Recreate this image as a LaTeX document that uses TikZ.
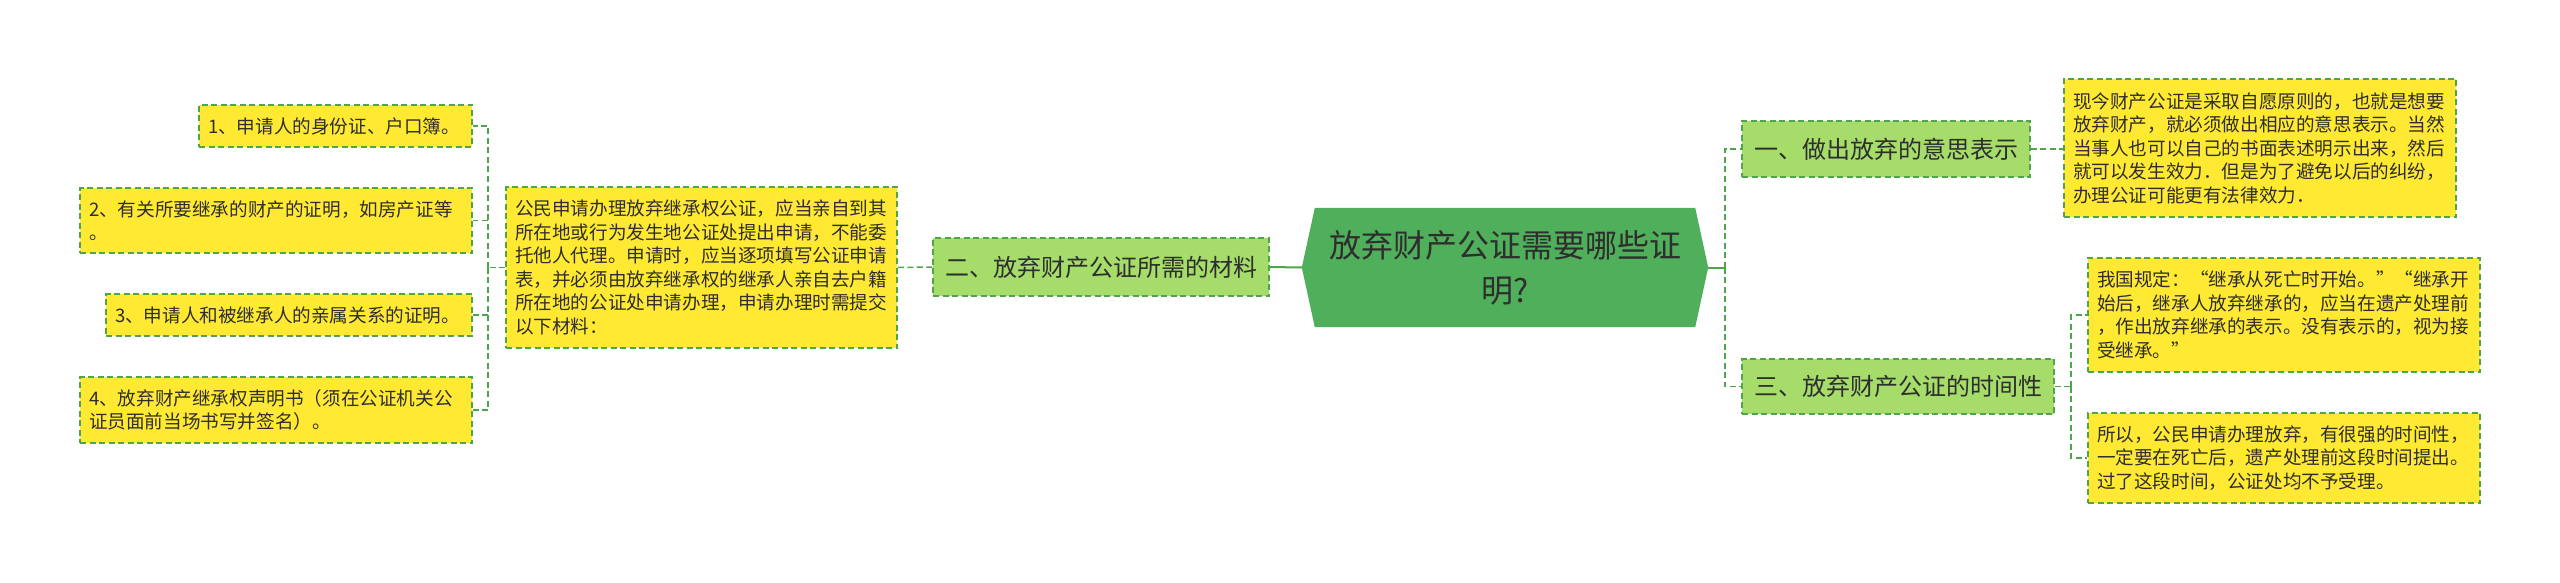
\documentclass[tikz,border=0pt]{standalone}
\usepackage{fontspec}
\setmainfont{Noto Sans CJK SC}
\usetikzlibrary{backgrounds,calc}
\definecolor{yel}{HTML}{FFE933}
\definecolor{lgreen}{HTML}{A5DC6A}
\definecolor{hubgreen}{HTML}{50AF5A}
\definecolor{edge}{HTML}{4FA54A}
\definecolor{ink}{HTML}{2E2E2E}
\begin{document}
\begin{tikzpicture}[x=1pt,y=-1pt,
  ybox/.style={fill=yel, draw=edge, line width=1.4pt, dash pattern=on 6pt off 3.5pt,
    inner xsep=9pt, inner ysep=0pt, align=left, text=ink,
    font=\fontsize{18.6}{23.5}\selectfont},
  gbox/.style={fill=lgreen, draw=edge, line width=1.4pt, dash pattern=on 6pt off 3.5pt,
    inner sep=0pt, text=ink, font=\fontsize{24}{28}\selectfont},
  hub/.style={inner sep=0pt, align=center, text=ink, font=\fontsize{32}{45}\selectfont},
  conn/.style={draw=edge, line width=1.5pt, dash pattern=on 6pt off 3.5pt},
  solidconn/.style={draw=edge, line width=2pt}]
\useasboundingbox (0,0) rectangle (2560,583);

% centre
\node[hub, minimum width=380pt, minimum height=119pt] (c) at (1505,267.5)
  {放弃财产公证需要哪些证\\明?};
\begin{scope}[on background layer]
\fill[white] (0,0) rectangle (2560,583);
\fill[hubgreen] (c.north west) -- (c.north east) -- ([xshift=13pt]c.east)
  -- (c.south east) -- (c.south west) -- ([xshift=-13pt]c.west) -- cycle;
\end{scope}

% left branch
\node[gbox, minimum width=336pt, minimum height=58pt] (two) at (1101,267) {二、放弃财产公证所需的材料};
\node[ybox, text width=373pt, minimum height=161pt] (big) at (701.5,267.5)
  {公民申请办理放弃继承权公证，应当亲自到其\\所在地或行为发生地公证处提出申请，不能委\\托他人代理。申请时，应当逐项填写公证申请\\表，并必须由放弃继承权的继承人亲自去户籍\\所在地的公证处申请办理，申请办理时需提交\\以下材料：};
\node[ybox, text width=255pt, minimum height=42pt] (b1) at (335.5,126) {1、申请人的身份证、户口簿。};
\node[ybox, text width=374pt, minimum height=65pt] (b2) at (276,220.5) {2、有关所要继承的财产的证明，如房产证等\\。};
\node[ybox, text width=348pt, minimum height=42pt] (b3) at (289,315) {3、申请人和被继承人的亲属关系的证明。};
\node[ybox, text width=374pt, minimum height=66pt] (b4) at (276,410) {4、放弃财产继承权声明书（须在公证机关公\\证员面前当场书写并签名）。};

% right branch
\node[gbox, minimum width=288pt, minimum height=56pt] (one) at (1886,149) {一、做出放弃的意思表示};
\node[gbox, minimum width=312pt, minimum height=55pt] (three) at (1898,386.5) {三、放弃财产公证的时间性};
\node[ybox, text width=374pt, minimum height=138pt] (r1) at (2260,148)
  {现今财产公证是采取自愿原则的，也就是想要\\放弃财产，就必须做出相应的意思表示。当然\\当事人也可以自己的书面表述明示出来，然后\\就可以发生效力．但是为了避免以后的纠纷，\\办理公证可能更有法律效力．};
\node[ybox, text width=374pt, minimum height=114pt] (r2) at (2284,315)
  {我国规定：“继承从死亡时开始。”“继承开\\始后，继承人放弃继承的，应当在遗产处理前\\，作出放弃继承的表示。没有表示的，视为接\\受继承。”};
\node[ybox, text width=374pt, minimum height=90pt] (r3) at (2284,458)
  {所以，公民申请办理放弃，有很强的时间性，\\一定要在死亡后，遗产处理前这段时间提出。\\过了这段时间，公证处均不予受理。};

% junctions
\coordinate (lj) at (488,267.5);
\coordinate (rj) at (1725,267.5);
\coordinate (tj) at (2071,386.5);

% connectors
\draw[solidconn] ([xshift=-13pt]c.west) -- (two.east);
\draw[conn] (two.west) -- (big.east);
\draw[conn] (big.west) -- (lj);
\draw[conn] (lj) |- (b1.east);
\draw[conn] (lj) |- (b2.east);
\draw[conn] (lj) |- (b3.east);
\draw[conn] (lj) |- (b4.east);

\draw[solidconn] ([xshift=13pt]c.east) -- (rj);
\draw[conn] (rj) |- (one.west);
\draw[conn] (rj) |- (three.west);
\draw[conn] (one.east) -- (one.east -| r1.west);
\draw[conn] (three.east) -- (tj);
\draw[conn] (tj) |- (r2.west);
\draw[conn] (tj) |- (r3.west);
\end{tikzpicture}
\end{document}
